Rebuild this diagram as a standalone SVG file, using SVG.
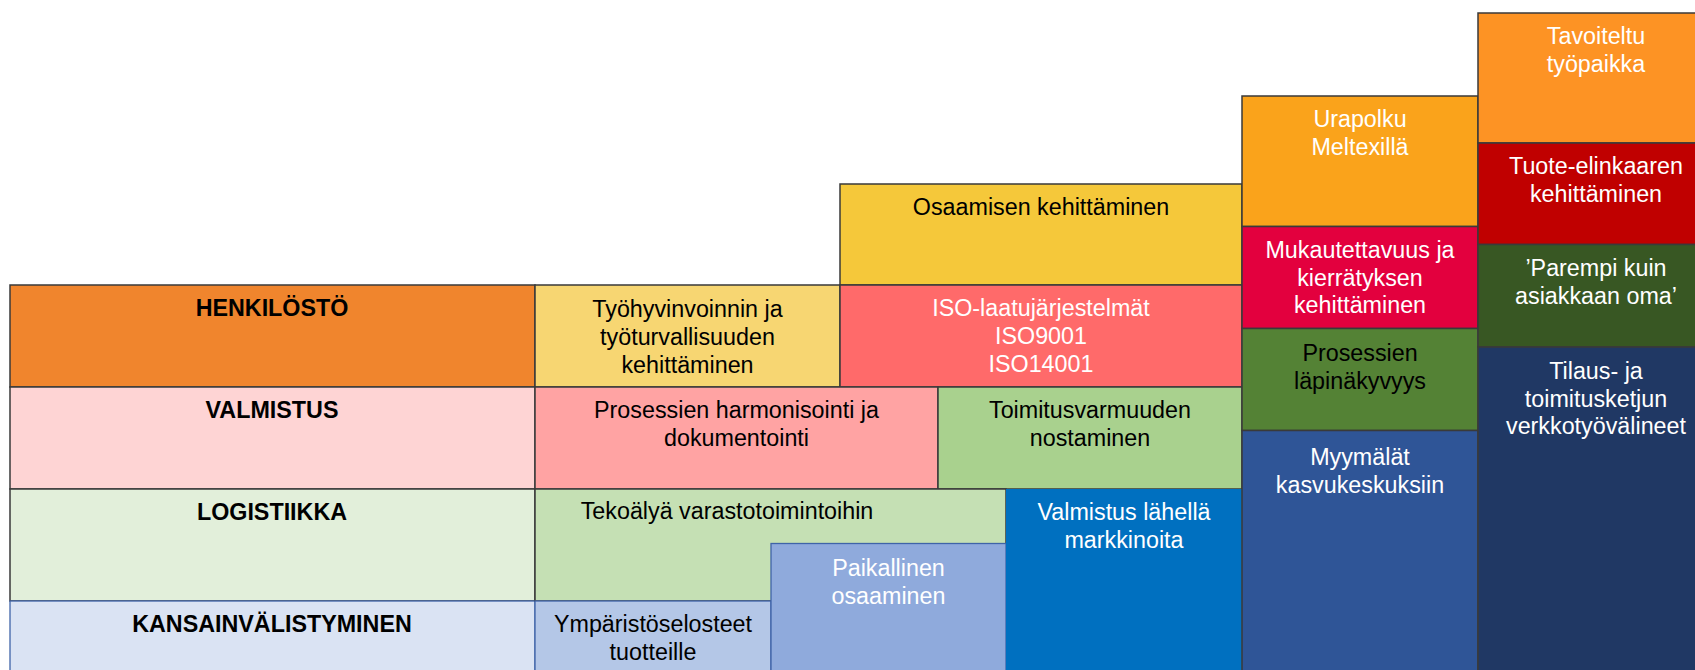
<svg xmlns="http://www.w3.org/2000/svg" width="1695" height="670" viewBox="0 0 1695 670">
<style>
rect{stroke:#3a3a3a;stroke-width:1.5}
rect.bl{stroke:#3f64a8;stroke-width:1.3}
rect.nb{stroke:none}
text{font-family:"Liberation Sans",Arial,sans-serif;font-size:23.3px;text-anchor:middle;fill:#000}
text.h{font-weight:bold;font-size:23.3px}
text.w{fill:#fff}
</style>
<rect x="0" y="0" width="1695" height="670" fill="#fff" class="nb"/>
<g id="henkilosto"><rect x="10" y="285" width="525" height="102" fill="#F0852D"/><text class="h" x="272" y="316">HENKILÖSTÖ</text></g>
<g id="valmistus"><rect x="10" y="387" width="525" height="102" fill="#FED4D4"/><text class="h" x="272" y="418">VALMISTUS</text></g>
<g id="logistiikka"><rect x="10" y="489" width="525" height="112" fill="#E2EFDA"/><text class="h" x="272" y="520">LOGISTIIKKA</text></g>
<g id="kansainvalistyminen"><rect class="bl" x="10" y="601" width="525" height="80" fill="#DAE3F3"/><text class="h" x="272" y="632">KANSAINVÄLISTYMINEN</text></g>
<g id="tyohyvinvointi"><rect x="535" y="285" width="305" height="102" fill="#F7D672"/><text x="687.5" y="317">Työhyvinvoinnin ja<tspan x="687.5" dy="28">työturvallisuuden</tspan><tspan x="687.5" dy="28">kehittäminen</tspan></text></g>
<g id="osaaminen"><rect x="840" y="184" width="402" height="101" fill="#F5C83A"/><text x="1041" y="215">Osaamisen kehittäminen</text></g>
<g id="iso"><rect x="840" y="285" width="402" height="102" fill="#FF6A6A"/><text class="w" x="1041" y="316">ISO-laatujärjestelmät<tspan x="1041" dy="28">ISO9001</tspan><tspan x="1041" dy="28">ISO14001</tspan></text></g>
<g id="harmonisointi"><rect x="535" y="387" width="403" height="102" fill="#FFA3A3"/><text x="736.5" y="418">Prosessien harmonisointi ja<tspan x="736.5" dy="28">dokumentointi</tspan></text></g>
<g id="toimitusvarmuus"><rect x="938" y="387" width="304" height="102" fill="#A9D18E"/><text x="1090" y="418">Toimitusvarmuuden<tspan x="1090" dy="28">nostaminen</tspan></text></g>
<g id="tekoaly"><rect x="535" y="489" width="471" height="112" fill="#C5E0B4"/><text x="727" y="519">Tekoälyä varastotoimintoihin</text></g>
<g id="ymparistoselosteet"><rect class="bl" x="535" y="601" width="236" height="80" fill="#B4C7E7"/><text x="653" y="632">Ympäristöselosteet<tspan x="653" dy="27.5">tuotteille</tspan></text></g>
<g id="paikallinen"><rect class="bl" x="771" y="543.5" width="235" height="140" fill="#8FAADC"/><text class="w" x="888.5" y="576">Paikallinen<tspan x="888.5" dy="28">osaaminen</tspan></text></g>
<g id="valmistus-markkinoilla"><rect class="nb" x="1006" y="489" width="236" height="181" fill="#0070C0"/><text class="w" x="1124" y="520">Valmistus lähellä<tspan x="1124" dy="28">markkinoita</tspan></text></g>
<g id="urapolku"><rect x="1242" y="96" width="236" height="130.5" fill="#FAA31B"/><text class="w" x="1360" y="127">Urapolku<tspan x="1360" dy="28">Meltexillä</tspan></text></g>
<g id="mukautettavuus"><rect x="1242" y="226.5" width="236" height="102" fill="#E3003E"/><text class="w" x="1360" y="258">Mukautettavuus ja<tspan x="1360" dy="27.5">kierrätyksen</tspan><tspan x="1360" dy="27.5">kehittäminen</tspan></text></g>
<g id="lapinakyvyys"><rect x="1242" y="328.5" width="236" height="102" fill="#548235"/><text x="1360" y="361">Prosessien<tspan x="1360" dy="28">läpinäkyvyys</tspan></text></g>
<g id="myymalat"><rect x="1242" y="430.5" width="236" height="250" fill="#2F5597"/><text class="w" x="1360" y="464.5">Myymälät<tspan x="1360" dy="28">kasvukeskuksiin</tspan></text></g>
<g id="tavoiteltu"><rect x="1478" y="13" width="236" height="130" fill="#FD9324"/><text class="w" x="1596" y="44">Tavoiteltu<tspan x="1596" dy="27.5">työpaikka</tspan></text></g>
<g id="tuote-elinkaari"><rect x="1478" y="143" width="236" height="101.5" fill="#C00000"/><text class="w" x="1596" y="174">Tuote-elinkaaren<tspan x="1596" dy="28">kehittäminen</tspan></text></g>
<g id="parempi"><rect x="1478" y="244.5" width="236" height="102.5" fill="#385723"/><text class="w" x="1596" y="276">’Parempi kuin<tspan x="1596" dy="28">asiakkaan oma’</tspan></text></g>
<g id="tilaus"><rect x="1478" y="347" width="236" height="333" fill="#203864"/><text class="w" x="1596" y="379">Tilaus- ja<tspan x="1596" dy="27.5">toimitusketjun</tspan><tspan x="1596" dy="27.5">verkkotyövälineet</tspan></text></g>
<g id="connectors"></g>
</svg>
